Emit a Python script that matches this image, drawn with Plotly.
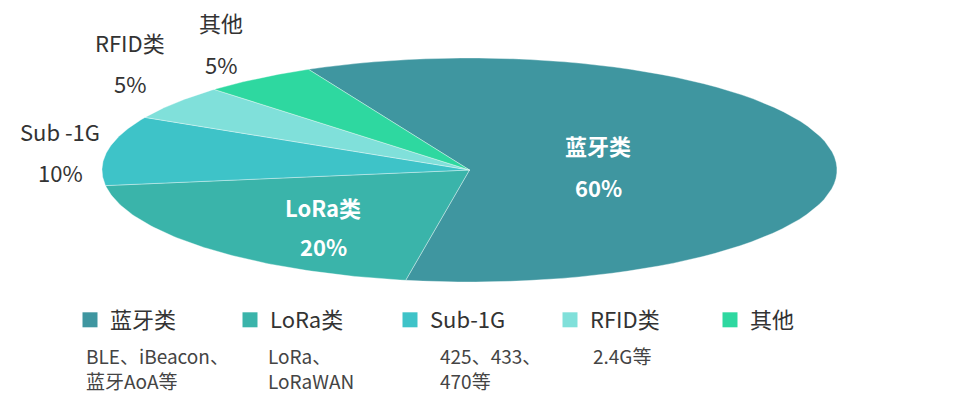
import numpy as np
import plotly.graph_objects as go

# data
names = ["蓝牙类", "LoRa类", "Sub-1G", "RFID类", "其他"]
values = [60, 20, 10, 5, 5]
pie_labels = ["蓝牙类", "LoRa类", "Sub -1G", "RFID类", "其他"]
notes_1 = ["BLE、iBeacon、", "LoRa、", "425、433、", "2.4G等", ""]
notes_2 = ["蓝牙AoA等", "LoRaWAN", "470等", "", ""]
colors = ["#3f96a0", "#3ab4aa", "#3ec3c8", "#80e0da", "#2ed8a0"]

W, H = 963, 404
# ellipse in pixels: centre and radii (axes are scaled so the pie is a unit circle)
cx, cy, rx, ry = 469.5, 170, 367.5, 112
start = 116  # degrees, clockwise from here

fig = go.Figure()

total = sum(values)
a0 = start
for name, v, col in zip(names, values, colors):
    a1 = a0 - 360 * v / total
    t = np.radians(np.linspace(a0, a1, 80))
    xs = np.concatenate([[0], np.cos(t), [0]])
    ys = np.concatenate([[0], np.sin(t), [0]])
    fig.add_trace(go.Scatter(x=xs, y=ys, fill="toself", fillcolor=col, mode="lines",
                             line=dict(color="rgba(255,255,255,0.45)", width=0.8),
                             hoverinfo="skip", showlegend=False))
    a0 = a1

# legend keys
for name, col in zip(names, colors):
    fig.add_trace(go.Scatter(x=[None], y=[None], mode="markers", name=name,
                             marker=dict(symbol="square", size=15, color=col)))

def px(x):
    return x / W

def py(y):
    return 1 - y / H

ann = []
# inside labels
inside = {0: (598, 145, 187), 1: (323, 207, 246)}
for i, (x, y1, y2) in inside.items():
    ann.append(dict(x=px(x), y=py(y1), text="<b>%s</b>" % pie_labels[i],
                    font=dict(size=22, color="white")))
    ann.append(dict(x=px(x), y=py(y2), text="<b>%d%%</b>" % values[i],
                    font=dict(size=22, color="white")))
# outside labels
outside = {2: (60, 131, 172), 3: (130, 42, 83), 4: (221, 22, 64)}
for i, (x, y1, y2) in outside.items():
    ann.append(dict(x=px(x), y=py(y1), text=pie_labels[i], font=dict(size=22, color="#333333")))
    ann.append(dict(x=px(x), y=py(y2), text="%d%%" % values[i], font=dict(size=22, color="#333333")))
# notes under legend
note_x = [84, 266, 438, 591, 750]
for i in range(len(names)):
    if notes_1[i]:
        ann.append(dict(x=px(note_x[i]), y=py(355), xanchor="left", text=notes_1[i],
                        font=dict(size=19, color="#444444")))
    if notes_2[i]:
        ann.append(dict(x=px(note_x[i]), y=py(380), xanchor="left", text=notes_2[i],
                        font=dict(size=19, color="#444444")))
for a in ann:
    a.update(xref="paper", yref="paper", showarrow=False, yanchor="middle")
    a.setdefault("xanchor", "center")

fig.update_layout(
    width=W, height=H,
    margin=dict(l=0, r=0, t=0, b=0),
    paper_bgcolor="white", plot_bgcolor="white",
    font=dict(family="Noto Sans CJK SC, sans-serif"),
    xaxis=dict(range=[-cx / rx, (W - cx) / rx], visible=False, fixedrange=True),
    yaxis=dict(range=[-(H - cy) / ry, cy / ry], visible=False, fixedrange=True),
    showlegend=True,
    legend=dict(orientation="h", x=px(70), xanchor="left", y=py(320), yanchor="middle",
                entrywidth=115, font=dict(size=22, color="#333333"),
                bgcolor="rgba(0,0,0,0)", itemclick=False),
    annotations=ann,
)

fig.write_html("out.html", config={"displayModeBar": False},
               post_script="document.body.style.margin='0';")
